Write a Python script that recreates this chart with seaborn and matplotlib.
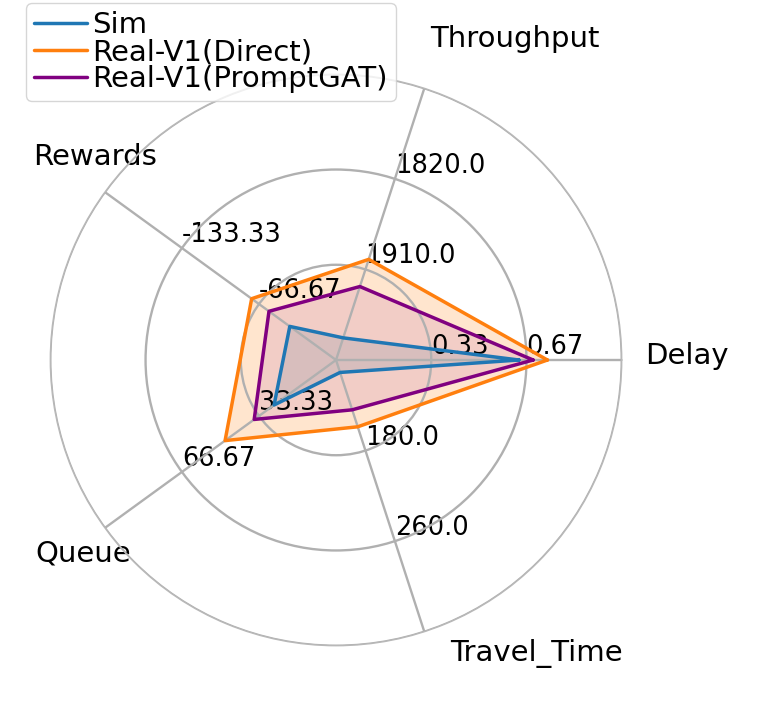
import numpy as np
import pandas as pd
import seaborn as sns
import matplotlib
matplotlib.use("Agg")
import matplotlib.pyplot as plt

# axes of the radar and their ranges (centre -> outer ring)
categories = ["Delay", "Throughput", "Rewards", "Queue", "Travel_Time"]
axis_start = [0, 2000, 0, 0, 100]
axis_end = [1, 1730, -200, 100, 340]

# values
series_names = ["Sim", "Real-V1(Direct)", "Real-V1(PromptGAT)"]
sim = [0.64, 1978, -40, 26.8, 111]
direct = [0.74, 1900, -73, 48, 159]
promptgat = [0.69, 1927, -58, 35.4, 144]

colors = ["#1f77b4", "#ff7f0e", "purple"]
fill_alpha = [0.15, 0.2, 0.1]
n_levels = 4

sns.set_style("white")
plt.rcParams["font.family"] = ["DejaVu Sans"]
plt.rcParams["text.color"] = "black"

angles = np.deg2rad(np.arange(0, 360, 360 / len(categories)))
lo = np.array(axis_start, dtype=float)
hi = np.array(axis_end, dtype=float)


def scale(vals):
    return (np.array(vals, dtype=float) - lo) / (hi - lo)


rows = []
for name, vals in zip(series_names, [sim, direct, promptgat]):
    r = scale(vals)
    for t, v in zip(np.append(angles, angles[0]), np.append(r, r[0])):
        rows.append({"theta": t, "r": v, "series": name})
df = pd.DataFrame(rows)

fig = plt.figure(figsize=(7.8, 7.2), dpi=100)
ax = fig.add_axes([0.0645, 0.1032, 0.7326, 0.7936], polar=True)

sns.lineplot(data=df, x="theta", y="r", hue="series", hue_order=series_names,
             palette=dict(zip(series_names, colors)), sort=False, estimator=None,
             linewidth=2.5, ax=ax, zorder=3)
for name, c, a in zip(series_names, colors, fill_alpha):
    d = df[df["series"] == name]
    ax.fill(d["theta"], d["r"], color=c, alpha=a, zorder=0.3)

# grid
ax.set_ylim(0, 1)
ax.set_yticks(np.linspace(0, 1, n_levels)[1:])
ax.set_yticklabels([])
ax.set_xticks(angles)
ax.set_xticklabels([])
ax.set_xlabel("")
ax.set_ylabel("")
ax.grid(True, color="#b0b0b0", linewidth=1.7)
ax.spines["polar"].set_color("#b8b8b8")
ax.spines["polar"].set_linewidth(1.0)

# per-axis tick labels
for i, t in enumerate(angles):
    grid = np.linspace(axis_start[i], axis_end[i], n_levels)
    for k in range(1, n_levels - 1):
        ax.text(t, k / (n_levels - 1), "{}".format(round(grid[k], 2)),
                ha="left", va="bottom", fontsize=18.5, zorder=0.45)

# category labels
label_pos = [(-0.7, 1.082), (73.3, 1.145), (147.2, 1.261), (213.8, 1.268), (290.8, 1.126)]
for name, (a, rr) in zip(categories, label_pos):
    ax.text(np.deg2rad(a), rr, name, ha="left", va="baseline", fontsize=21,
            clip_on=False, zorder=0.45)

sns.move_legend(ax, "upper left", bbox_to_anchor=(26 / 780, 1 - 3 / 720),
                bbox_transform=fig.transFigure, title=None, fontsize=21,
                handlelength=1.8, handletextpad=0.2, labelspacing=-0.04,
                borderpad=0.28, borderaxespad=0, frameon=True)

fig.savefig("out.png", dpi=100)
